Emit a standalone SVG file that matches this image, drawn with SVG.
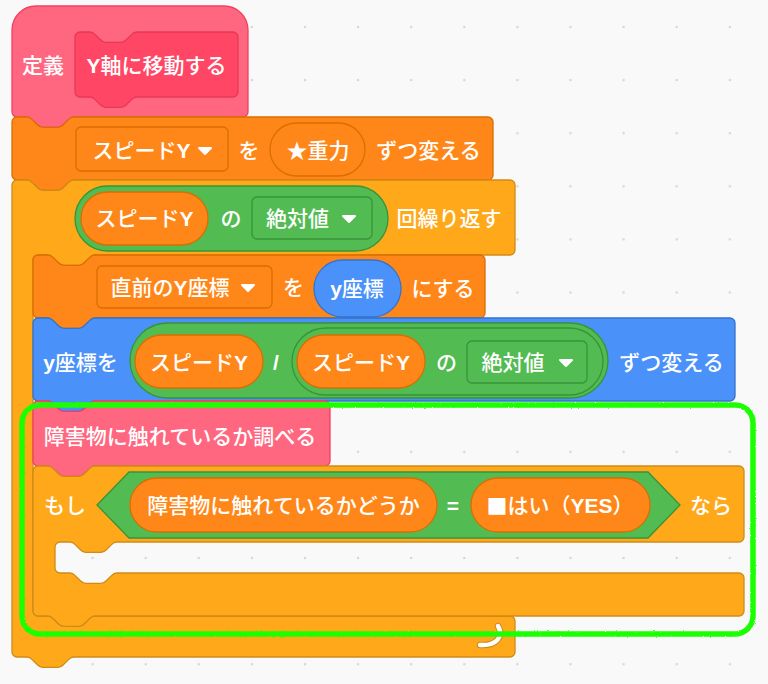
<svg xmlns="http://www.w3.org/2000/svg" xmlns:xlink="http://www.w3.org/1999/xlink" width="768" height="684" viewBox="0 0 768 684">
<defs>
<style>
.t{fill:#fff;font-family:"Liberation Sans","Noto Sans CJK JP",sans-serif;font-size:21px;font-weight:500;text-anchor:middle;dominant-baseline:central}
.b{font-weight:700}
.cj{font-family:"Noto Sans CJK JP",sans-serif}
.hat{fill:#FF6680;stroke:#F0415F;stroke-width:1.3}
.proto{fill:#FF4765;stroke:#E8385A;stroke-width:1.3}
.var{fill:#FF8719;stroke:#DB6E00;stroke-width:1.3}
.ctl{fill:#FFA81A;stroke:#CF8B17;stroke-width:1.3}
.mot{fill:#4A92FA;stroke:#3373CC;stroke-width:1.3}
.op{fill:#52BB52;stroke:#389438;stroke-width:1.3}
.arr{fill:#fff;stroke:#fff;stroke-width:2;stroke-linejoin:round}
</style>
<pattern id="dots" patternUnits="userSpaceOnUse" x="12.95" y="0.45" width="53.1" height="53.1">
<circle cx="26.55" cy="26.55" r="1.3" fill="#D6D6D6"/>
</pattern>
<filter id="rough" x="-5%" y="-5%" width="110%" height="110%">
<feTurbulence type="fractalNoise" baseFrequency="0.6" numOctaves="2" seed="3" result="n"/>
<feDisplacementMap in="SourceGraphic" in2="n" scale="2" xChannelSelector="R" yChannelSelector="G"/>
</filter>
<path id="ar" d="M-6,-3 h12 l-6,6 z"/>
</defs>
<rect width="768" height="684" fill="#F9F9F9"/>
<rect width="768" height="684" fill="url(#dots)"/>

<g id="define">
<path class="hat" d="M12,30 A24,24 0 0 1 36,6 H224 A24,24 0 0 1 248,30 V112 A5,5 0 0 1 243,117 H73.7 c -2.6,0 -3.9,1.3 -5.2,2.6 l -5.2,5.2 c -1.3,1.3 -2.6,2.6 -5.2,2.6 h -15.5 c -2.6,0 -3.9,-1.3 -5.2,-2.6 l -5.2,-5.2 c -1.3,-1.3 -2.6,-2.6 -5.2,-2.6 H17 A5,5 0 0 1 12,112 Z"/>
<path class="proto" d="M75,37 A5,5 0 0 1 80,32 H90 c 2.6,0 3.9,1.3 5.2,2.6 l 5.2,5.2 c 1.3,1.3 2.6,2.6 5.2,2.6 h 15.5 c 2.6,0 3.9,-1.3 5.2,-2.6 l 5.2,-5.2 c 1.3,-1.3 2.6,-2.6 5.2,-2.6 H233 A5,5 0 0 1 238,37 V92 A5,5 0 0 1 233,97 H136.7 c -2.6,0 -3.9,1.3 -5.2,2.6 l -5.2,5.2 c -1.3,1.3 -2.6,2.6 -5.2,2.6 h -15.5 c -2.6,0 -3.9,-1.3 -5.2,-2.6 l -5.2,-5.2 c -1.3,-1.3 -2.6,-2.6 -5.2,-2.6 H80 A5,5 0 0 1 75,92 Z"/>
<text class="t" x="43" y="65">定義</text>
<text class="t" x="156.5" y="65"><tspan class="b">Y</tspan>軸に移動する</text>
</g>

<g id="change-speed">
<path class="var" d="M12,122 A5,5 0 0 1 17,117 H27 c 2.6,0 3.9,1.3 5.2,2.6 l 5.2,5.2 c 1.3,1.3 2.6,2.6 5.2,2.6 h 15.5 c 2.6,0 3.9,-1.3 5.2,-2.6 l 5.2,-5.2 c 1.3,-1.3 2.6,-2.6 5.2,-2.6 H488 A5,5 0 0 1 493,122 V175 A5,5 0 0 1 488,180 H73.7 c -2.6,0 -3.9,1.3 -5.2,2.6 l -5.2,5.2 c -1.3,1.3 -2.6,2.6 -5.2,2.6 h -15.5 c -2.6,0 -3.9,-1.3 -5.2,-2.6 l -5.2,-5.2 c -1.3,-1.3 -2.6,-2.6 -5.2,-2.6 H17 A5,5 0 0 1 12,175 Z"/>
<rect class="var" x="76" y="127" width="152" height="44" rx="5"/>
<text class="t" x="141.5" y="150">スピード<tspan class="b">Y</tspan></text>
<use href="#ar" class="arr" x="205" y="151"/>
<text class="t" x="249" y="150">を</text>
<rect class="var" x="270" y="123" width="95" height="53" rx="26.5"/>
<text class="t" x="318" y="150">★重力</text>
<text class="t" x="428.5" y="150">ずつ変える</text>
</g>

<g id="repeat">
<path class="ctl" d="M12,185 A5,5 0 0 1 17,180 H27 c 2.6,0 3.9,1.3 5.2,2.6 l 5.2,5.2 c 1.3,1.3 2.6,2.6 5.2,2.6 h 15.5 c 2.6,0 3.9,-1.3 5.2,-2.6 l 5.2,-5.2 c 1.3,-1.3 2.6,-2.6 5.2,-2.6 H510 A5,5 0 0 1 515,185 V250 A5,5 0 0 1 510,255 H94.7 c -2.6,0 -3.9,1.3 -5.2,2.6 l -5.2,5.2 c -1.3,1.3 -2.6,2.6 -5.2,2.6 h -15.5 c -2.6,0 -3.9,-1.3 -5.2,-2.6 l -5.2,-5.2 c -1.3,-1.3 -2.6,-2.6 -5.2,-2.6 H38 A5,5 0 0 0 33,260 V611 A5,5 0 0 0 38,616 H48 c 2.6,0 3.9,1.3 5.2,2.6 l 5.2,5.2 c 1.3,1.3 2.6,2.6 5.2,2.6 h 15.5 c 2.6,0 3.9,-1.3 5.2,-2.6 l 5.2,-5.2 c 1.3,-1.3 2.6,-2.6 5.2,-2.6 H510 A5,5 0 0 1 515,621 V652 A5,5 0 0 1 510,657 H73.7 c -2.6,0 -3.9,1.3 -5.2,2.6 l -5.2,5.2 c -1.3,1.3 -2.6,2.6 -5.2,2.6 h -15.5 c -2.6,0 -3.9,-1.3 -5.2,-2.6 l -5.2,-5.2 c -1.3,-1.3 -2.6,-2.6 -5.2,-2.6 H17 A5,5 0 0 1 12,652 Z"/>
<rect class="op" x="75" y="186" width="313" height="65" rx="32.5"/>
<rect class="var" x="81" y="192" width="127" height="53" rx="26.5"/>
<text class="t" x="144.5" y="218">スピード<tspan class="b">Y</tspan></text>
<text class="t" x="231" y="218">の</text>
<rect class="op" x="252" y="197" width="120" height="42" rx="5"/>
<text class="t" x="297.5" y="218">絶対値</text>
<use href="#ar" class="arr" x="349" y="219"/>
<text class="t" x="449" y="218">回繰り返す</text>
<path d="M498,626 C504,636 497,646 480,645" fill="none" stroke="#CF8B17" stroke-width="6.5" stroke-linecap="round"/>
<path d="M498,626 C504,636 497,646 480,645" fill="none" stroke="#fff" stroke-width="4.5" stroke-linecap="round"/>
</g>

<g id="set-prev-y">
<path class="var" d="M33,260 A5,5 0 0 1 38,255 H48 c 2.6,0 3.9,1.3 5.2,2.6 l 5.2,5.2 c 1.3,1.3 2.6,2.6 5.2,2.6 h 15.5 c 2.6,0 3.9,-1.3 5.2,-2.6 l 5.2,-5.2 c 1.3,-1.3 2.6,-2.6 5.2,-2.6 H480 A5,5 0 0 1 485,260 V313 A5,5 0 0 1 480,318 H94.7 c -2.6,0 -3.9,1.3 -5.2,2.6 l -5.2,5.2 c -1.3,1.3 -2.6,2.6 -5.2,2.6 h -15.5 c -2.6,0 -3.9,-1.3 -5.2,-2.6 l -5.2,-5.2 c -1.3,-1.3 -2.6,-2.6 -5.2,-2.6 H38 A5,5 0 0 1 33,313 Z"/>
<rect class="var" x="97" y="266" width="175" height="42" rx="5"/>
<text class="t" x="170" y="287">直前の<tspan class="b">Y</tspan>座標</text>
<use href="#ar" class="arr" x="248" y="288"/>
<text class="t" x="293.5" y="287">を</text>
<rect class="mot" x="314" y="260" width="87" height="57" rx="28.5"/>
<text class="t" x="357" y="288"><tspan class="b">y</tspan>座標</text>
<text class="t" x="443" y="288">にする</text>
</g>

<g id="change-y">
<path class="mot" d="M33,323 A5,5 0 0 1 38,318 H48 c 2.6,0 3.9,1.3 5.2,2.6 l 5.2,5.2 c 1.3,1.3 2.6,2.6 5.2,2.6 h 15.5 c 2.6,0 3.9,-1.3 5.2,-2.6 l 5.2,-5.2 c 1.3,-1.3 2.6,-2.6 5.2,-2.6 H730 A5,5 0 0 1 735,323 V396 A5,5 0 0 1 730,401 H94.7 c -2.6,0 -3.9,1.3 -5.2,2.6 l -5.2,5.2 c -1.3,1.3 -2.6,2.6 -5.2,2.6 h -15.5 c -2.6,0 -3.9,-1.3 -5.2,-2.6 l -5.2,-5.2 c -1.3,-1.3 -2.6,-2.6 -5.2,-2.6 H38 A5,5 0 0 1 33,396 Z"/>
<text class="t" x="80.5" y="362"><tspan class="b">y</tspan>座標を</text>
<rect class="op" x="130" y="323" width="478" height="75" rx="37.5"/>
<rect class="var" x="135" y="335" width="128" height="53" rx="26.5"/>
<text class="t" x="199" y="362">スピード<tspan class="b">Y</tspan></text>
<text class="t b" x="276" y="362">/</text>
<rect class="op" x="292" y="328" width="311" height="67" rx="33.5"/>
<rect class="var" x="297" y="335" width="128" height="53" rx="26.5"/>
<text class="t" x="361" y="362">スピード<tspan class="b">Y</tspan></text>
<text class="t" x="446.5" y="362">の</text>
<rect class="op" x="467" y="341" width="120" height="42" rx="5"/>
<text class="t" x="513" y="362">絶対値</text>
<use href="#ar" class="arr" x="566" y="363"/>
<text class="t" x="671.5" y="362">ずつ変える</text>
</g>

<g id="check-obstacle">
<path class="hat" d="M33,406 A5,5 0 0 1 38,401 H48 c 2.6,0 3.9,1.3 5.2,2.6 l 5.2,5.2 c 1.3,1.3 2.6,2.6 5.2,2.6 h 15.5 c 2.6,0 3.9,-1.3 5.2,-2.6 l 5.2,-5.2 c 1.3,-1.3 2.6,-2.6 5.2,-2.6 H325 A5,5 0 0 1 330,406 V461 A5,5 0 0 1 325,466 H94.7 c -2.6,0 -3.9,1.3 -5.2,2.6 l -5.2,5.2 c -1.3,1.3 -2.6,2.6 -5.2,2.6 h -15.5 c -2.6,0 -3.9,-1.3 -5.2,-2.6 l -5.2,-5.2 c -1.3,-1.3 -2.6,-2.6 -5.2,-2.6 H38 A5,5 0 0 1 33,461 Z"/>
<text class="t" x="180" y="436">障害物に触れているか調べる</text>
</g>

<g id="if-block">
<path class="ctl" d="M33,471 A5,5 0 0 1 38,466 H48 c 2.6,0 3.9,1.3 5.2,2.6 l 5.2,5.2 c 1.3,1.3 2.6,2.6 5.2,2.6 h 15.5 c 2.6,0 3.9,-1.3 5.2,-2.6 l 5.2,-5.2 c 1.3,-1.3 2.6,-2.6 5.2,-2.6 H739 A5,5 0 0 1 744,471 V537 A5,5 0 0 1 739,542 H116.7 c -2.6,0 -3.9,1.3 -5.2,2.6 l -5.2,5.2 c -1.3,1.3 -2.6,2.6 -5.2,2.6 h -15.5 c -2.6,0 -3.9,-1.3 -5.2,-2.6 l -5.2,-5.2 c -1.3,-1.3 -2.6,-2.6 -5.2,-2.6 H60 A5,5 0 0 0 55,547 V568 A5,5 0 0 0 60,573 H70 c 2.6,0 3.9,1.3 5.2,2.6 l 5.2,5.2 c 1.3,1.3 2.6,2.6 5.2,2.6 h 15.5 c 2.6,0 3.9,-1.3 5.2,-2.6 l 5.2,-5.2 c 1.3,-1.3 2.6,-2.6 5.2,-2.6 H739 A5,5 0 0 1 744,578 V611 A5,5 0 0 1 739,616 H94.7 c -2.6,0 -3.9,1.3 -5.2,2.6 l -5.2,5.2 c -1.3,1.3 -2.6,2.6 -5.2,2.6 h -15.5 c -2.6,0 -3.9,-1.3 -5.2,-2.6 l -5.2,-5.2 c -1.3,-1.3 -2.6,-2.6 -5.2,-2.6 H38 A5,5 0 0 1 33,611 Z"/>
<text class="t" x="65" y="505">もし</text>
<polygon class="op" points="97,505 129,472 648,472 680,505 648,538 129,538"/>
<rect class="var" x="130" y="478" width="307" height="54" rx="27"/>
<text class="t" x="283.5" y="505">障害物に触れているかどうか</text>
<text class="t b" x="453" y="505">=</text>
<rect class="var" x="471" y="478" width="179" height="54" rx="27"/>
<text class="t" x="560" y="505"><tspan class="cj">■</tspan>はい（<tspan class="b">YES</tspan>）</text>
<text class="t" x="711" y="505">なら</text>
</g>

<g id="highlight">
<rect x="22" y="405" width="731" height="229" rx="18" fill="none" stroke="#1EFF00" stroke-width="5.5" filter="url(#rough)"/>
</g>
</svg>
